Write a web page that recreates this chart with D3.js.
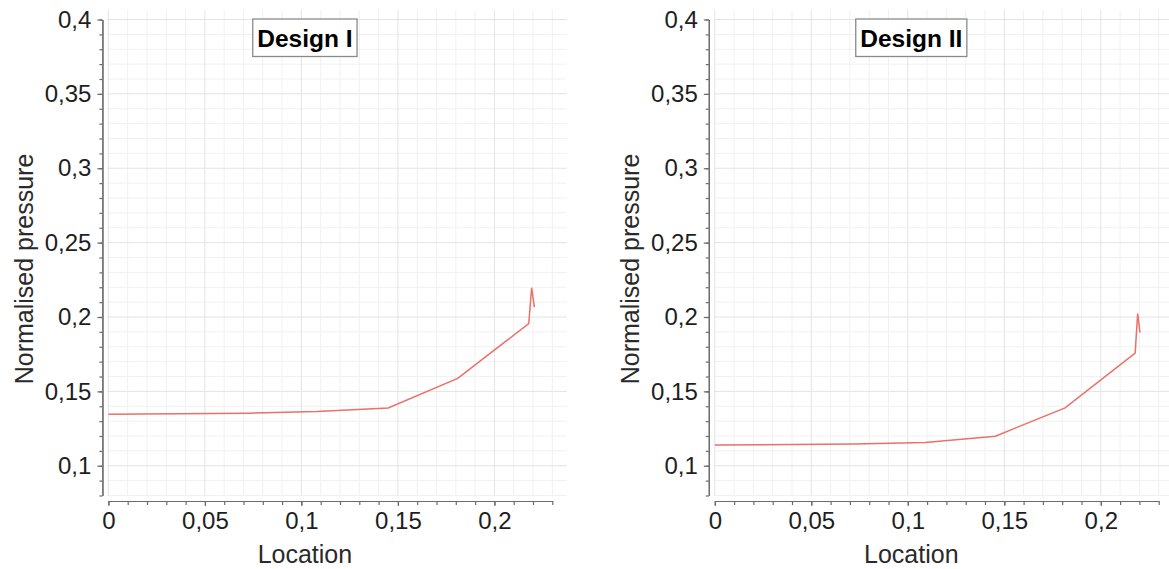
<!DOCTYPE html>
<html>
<head>
<meta charset="utf-8">
<script src="https://cdn.jsdelivr.net/npm/d3@7"></script>
<style>
  html, body { margin: 0; padding: 0; background: #fff; }
  svg { display: block; }
</style>
</head>
<body>
<svg id="chart" width="1169" height="569"></svg>
<script>
// ---- data ----
const panelTitles = ["Design I", "Design II"];
const xTickValues = [0, 0.05, 0.1, 0.15, 0.2];
const xTickLabels = ["0", "0,05", "0,1", "0,15", "0,2"];
const yTickValues = [0.1, 0.15, 0.2, 0.25, 0.3, 0.35, 0.4];
const yTickLabels = ["0,1", "0,15", "0,2", "0,25", "0,3", "0,35", "0,4"];
const xAxisTitle = "Location";
const yAxisTitle = "Normalised pressure";

const design1Location = [0, 0.072, 0.108, 0.145, 0.181, 0.2178, 0.2193, 0.2207];
const design1Pressure = [0.1347, 0.1353, 0.1365, 0.1389, 0.1587, 0.1956, 0.2197, 0.2067];
const design2Location = [0, 0.072, 0.109, 0.1454, 0.1815, 0.2178, 0.2191, 0.2203];
const design2Pressure = [0.1139, 0.1146, 0.1157, 0.1199, 0.1389, 0.1758, 0.2023, 0.1895];

const series = [
  { title: panelTitles[0], x: design1Location, y: design1Pressure },
  { title: panelTitles[1], x: design2Location, y: design2Pressure }
];

// ---- layout ----
const panelOffsets = [0, 606.4];
const x0 = 108.4;
const pxPerUnitX = 1930;
const svg = d3.select("#chart");
const FONT = "'Liberation Sans', Arial, sans-serif";

const lineColor = "#ea7068";
const axisColor = "#6b6b6b";
const majorGrid = "#e3e3e3";
const minorGrid = "#f1f1f1";

series.forEach((s, pi) => {
  const g = svg.append("g").attr("transform", `translate(${panelOffsets[pi]},0)`);

  const xs = d3.scaleLinear().domain([0, 0.23]).range([x0, x0 + 0.23 * pxPerUnitX]);
  const ys = d3.scaleLinear().domain([0.08, 0.4]).range([495.5, 19.5]);

  const gridTop = ys(0.4066);
  const gridBottom = ys(0.08);
  const gridLeft = xs(0) - 1;
  const gridRight = xs(0.2375);

  // grid
  const grid = g.append("g");
  const xGridVals = d3.range(0, 24).map(i => i / 100);
  const yGridVals = d3.range(8, 41).map(i => i / 100);
  grid.selectAll("line.vm").data(xGridVals.filter((d, i) => i % 5 !== 0)).join("line")
    .attr("x1", d => xs(d)).attr("x2", d => xs(d))
    .attr("y1", gridTop).attr("y2", gridBottom)
    .attr("stroke", minorGrid).attr("stroke-width", 1);
  grid.selectAll("line.hm").data(yGridVals.filter((d, i) => (i + 8) % 5 !== 0)).join("line")
    .attr("y1", d => ys(d)).attr("y2", d => ys(d))
    .attr("x1", gridLeft).attr("x2", gridRight)
    .attr("stroke", minorGrid).attr("stroke-width", 1);
  grid.selectAll("line.vM").data(xTickValues).join("line")
    .attr("x1", d => xs(d)).attr("x2", d => xs(d))
    .attr("y1", gridTop).attr("y2", gridBottom)
    .attr("stroke", majorGrid).attr("stroke-width", 1);
  grid.selectAll("line.hM").data(yTickValues).join("line")
    .attr("y1", d => ys(d)).attr("y2", d => ys(d))
    .attr("x1", gridLeft).attr("x2", gridRight)
    .attr("stroke", majorGrid).attr("stroke-width", 1);

  // y axis
  const yAxisX = xs(0) - 6;
  const yMinor = g.append("g").attr("transform", `translate(${yAxisX},0)`)
    .call(d3.axisLeft(ys).tickValues(yGridVals).tickSize(3).tickSizeOuter(0).tickFormat(""));
  const yMajor = g.append("g").attr("transform", `translate(${yAxisX},0)`)
    .call(d3.axisLeft(ys).tickValues(yTickValues).tickSize(5).tickSizeOuter(0).tickPadding(6)
      .tickFormat((d, i) => yTickLabels[i]));
  [yMinor, yMajor].forEach(a => {
    a.selectAll("path, line").attr("stroke", axisColor).attr("stroke-width", 1.2);
  });
  yMajor.selectAll("text").attr("font-family", FONT).attr("font-size", 24).attr("fill", "#1e1e1e");

  // x axis
  const xAxisY = 501;
  const xMinor = g.append("g").attr("transform", `translate(0,${xAxisY})`)
    .call(d3.axisBottom(xs).tickValues(xGridVals).tickSize(4).tickSizeOuter(0).tickFormat(""));
  const xMajor = g.append("g").attr("transform", `translate(0,${xAxisY})`)
    .call(d3.axisBottom(xs).tickValues(xTickValues).tickSize(5).tickSizeOuter(0).tickPadding(6)
      .tickFormat((d, i) => xTickLabels[i]));
  [xMinor, xMajor].forEach(a => {
    a.selectAll("path, line").attr("stroke", axisColor).attr("stroke-width", 1.2);
  });
  xMajor.selectAll("text").attr("font-family", FONT).attr("font-size", 24).attr("fill", "#1e1e1e");

  // line
  const pts = s.x.map((v, i) => [v, s.y[i]]);
  g.append("path").datum(pts)
    .attr("fill", "none").attr("stroke", lineColor).attr("stroke-width", 1.5)
    .attr("stroke-linejoin", "miter")
    .attr("d", d3.line().x(d => xs(d[0])).y(d => ys(d[1])));

  // axis titles
  const cx = xs(0) + 196.5;
  g.append("text").attr("x", cx).attr("y", 563)
    .attr("text-anchor", "middle").attr("font-family", FONT).attr("font-size", 25)
    .attr("fill", "#2a2a2a").text(xAxisTitle);
  g.append("text").attr("transform", `translate(33,269) rotate(-90)`)
    .attr("text-anchor", "middle").attr("font-family", FONT).attr("font-size", 25)
    .attr("fill", "#2a2a2a").text(yAxisTitle);

  // title box
  const tb = g.append("g");
  const rect = tb.append("rect");
  const t = tb.append("text").attr("x", cx).attr("y", 46.5)
    .attr("text-anchor", "middle").attr("font-family", FONT).attr("font-weight", "bold")
    .attr("font-size", 24.5).attr("fill", "#000").text(s.title);
  const bb = t.node().getBBox();
  rect.attr("x", cx - bb.width / 2 - 4.5).attr("y", 19)
    .attr("width", bb.width + 9).attr("height", 37.5)
    .attr("fill", "#fff").attr("stroke", "#8a8a8a").attr("stroke-width", 1.3);
});
</script>
</body>
</html>
